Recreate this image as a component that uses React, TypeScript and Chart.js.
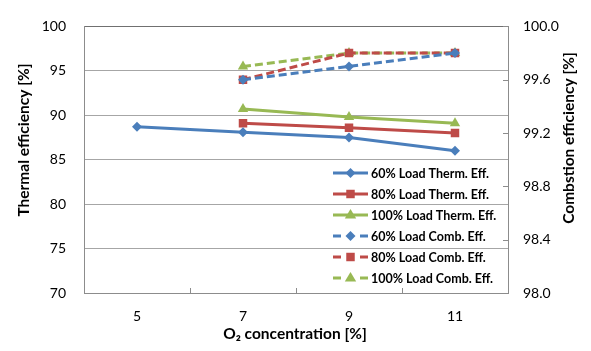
import React, { useEffect, useRef } from "react";
import { Chart, registerables } from "chart.js";

Chart.register(...registerables);

const categories = ["5", "7", "9", "11"];
const therm60 = [88.7, 88.1, 87.5, 86.0];
const therm80 = [null, 89.1, 88.6, 88.0];
const therm100 = [null, 90.7, 89.8, 89.1];
const comb60 = [null, 99.6, 99.7, 99.8];
const comb80 = [null, 99.6, 99.8, 99.8];
const comb100 = [null, 99.7, 99.8, 99.8];
const labels = [
  "60% Load Therm. Eff.",
  "80% Load Therm. Eff.",
  "100% Load Therm. Eff.",
  "60% Load Comb. Eff.",
  "80% Load Comb. Eff.",
  "100% Load Comb. Eff.",
];
const leftTitle = "Thermal efficiency [%]";
const rightTitle = "Combstion efficiency [%]";
const xTitle = "O₂ concentration [%]";

const BLUE = "#4A7EBB";
const RED = "#BE4B48";
const GREEN = "#98B954";
const FONT = "Lato, 'Open Sans', sans-serif";

function drawMarker(ctx: CanvasRenderingContext2D, style: string, cx: number, cy: number, r: number) {
  ctx.beginPath();
  if (style === "rectRot") {
    ctx.moveTo(cx, cy - r);
    ctx.lineTo(cx + r, cy);
    ctx.lineTo(cx, cy + r);
    ctx.lineTo(cx - r, cy);
  } else if (style === "rect") {
    const s = r * Math.SQRT1_2;
    ctx.rect(cx - s, cy - s, 2 * s, 2 * s);
  } else {
    ctx.moveTo(cx, cy - r);
    ctx.lineTo(cx + r * 0.95, cy + r * 0.6);
    ctx.lineTo(cx - r * 0.95, cy + r * 0.6);
  }
  ctx.closePath();
  ctx.fill();
}

const decorPlugin = {
  id: "decor",
  afterDraw(chart: any) {
    const ctx = chart.ctx;
    const ca = chart.chartArea;
    const x = chart.scales.x;
    const y2 = chart.scales.y2;
    ctx.save();
    ctx.strokeStyle = "#8c8c8c";
    ctx.lineWidth = 1;
    for (let i = 1; i < categories.length; i++) {
      const px = Math.round((x.getPixelForValue(i - 1) + x.getPixelForValue(i)) / 2) + 0.5;
      ctx.beginPath();
      ctx.moveTo(px, ca.bottom);
      ctx.lineTo(px, ca.bottom - 5);
      ctx.stroke();
    }
    y2.ticks.forEach((t: any) => {
      const py = Math.round(y2.getPixelForValue(t.value)) + 0.5;
      ctx.beginPath();
      ctx.moveTo(ca.right, py);
      ctx.lineTo(ca.right - 5, py);
      ctx.stroke();
    });
    ctx.fillStyle = "#000";
    ctx.font = `bold 15.5px ${FONT}`;
    ctx.textAlign = "center";
    ctx.textBaseline = "middle";
    ctx.save();
    ctx.translate(24, 140);
    ctx.rotate(-Math.PI / 2);
    ctx.fillText(leftTitle, 0, 0);
    ctx.restore();
    ctx.save();
    ctx.translate(569, 138);
    ctx.rotate(-Math.PI / 2);
    ctx.fillText(rightTitle, 0, 0);
    ctx.restore();
    ctx.fillText(xTitle, 295, 334);
    const ds = chart.data.datasets;
    ds.forEach((d: any, i: number) => {
      const ly = 173 + i * 21;
      const x0 = 333;
      const x1 = 368;
      ctx.save();
      ctx.strokeStyle = d.borderColor;
      ctx.lineWidth = 3;
      ctx.beginPath();
      if (d.borderDash) {
        ctx.moveTo(x0, ly);
        ctx.lineTo(x0 + 8, ly);
        ctx.moveTo(x1 - 8, ly);
        ctx.lineTo(x1, ly);
      } else {
        ctx.moveTo(x0, ly);
        ctx.lineTo(x1, ly);
      }
      ctx.stroke();
      ctx.fillStyle = d.backgroundColor;
      drawMarker(ctx, d.pointStyle, (x0 + x1) / 2, ly, d.pointRadius);
      ctx.restore();
      ctx.fillStyle = "#000";
      ctx.font = `bold 12.5px ${FONT}`;
      ctx.textAlign = "left";
      ctx.textBaseline = "middle";
      ctx.fillText(d.label, 371, ly + 1);
    });
    ctx.restore();
  },
};

function mk(label: string, data: (number | null)[], color: string, style: string, radius: number, axis: string, dashed: boolean) {
  return {
    label,
    data,
    borderColor: color,
    backgroundColor: color,
    pointBackgroundColor: color,
    pointBorderColor: color,
    pointBorderWidth: 0,
    pointStyle: style,
    pointRadius: radius,
    pointHoverRadius: radius,
    borderWidth: 3,
    borderDash: dashed ? [8, 4] : undefined,
    tension: 0,
    yAxisID: axis,
    fill: false,
  };
}

export default function App() {
  const ref = useRef<HTMLCanvasElement>(null);
  useEffect(() => {
    if (!ref.current) return;
    const tickFont = { family: FONT, size: 14 };
    const chart = new Chart(ref.current, {
      type: "line",
      data: {
        labels: categories,
        datasets: [
          mk(labels[0], therm60, BLUE, "rectRot", 5, "y", false),
          mk(labels[1], therm80, RED, "rect", 6, "y", false),
          mk(labels[2], therm100, GREEN, "triangle", 6, "y", false),
          mk(labels[3], comb60, BLUE, "rectRot", 5, "y2", true),
          mk(labels[4], comb80, RED, "rect", 6, "y2", true),
          mk(labels[5], comb100, GREEN, "triangle", 6, "y2", true),
        ] as any,
      },
      options: {
        animation: false,
        responsive: false,
        maintainAspectRatio: false,
        layout: { padding: { top: 14, left: 0, right: 0, bottom: 0 } },
        plugins: { legend: { display: false }, tooltip: { enabled: false } },
        scales: {
          x: {
            type: "category",
            offset: true,
            grid: { display: false },
            border: { display: true, color: "#8c8c8c", width: 1 },
            ticks: { font: tickFont, color: "#000", padding: 7 },
            afterFit: (s: any) => {
              s.height = 58;
            },
          },
          y: {
            position: "left",
            min: 70,
            max: 100,
            ticks: { stepSize: 5, font: tickFont, color: "#000", padding: 18 },
            grid: { color: (c: any) => (c.tick && c.tick.value === 100 ? "#707070" : "#a6a6a6"), drawTicks: false },
            border: { display: true, color: "#8c8c8c", width: 1 },
            afterFit: (s: any) => {
              s.width = 84;
            },
          },
          y2: {
            position: "right",
            min: 98,
            max: 100,
            ticks: {
              stepSize: 0.4,
              font: tickFont,
              color: "#000",
              padding: 15,
              callback: (v: any) => Number(v).toFixed(1),
            },
            grid: { display: false, drawTicks: false },
            border: { display: true, color: "#8c8c8c", width: 1 },
            afterFit: (s: any) => {
              s.width = 83;
            },
          },
        },
      } as any,
      plugins: [decorPlugin],
    });
    return () => chart.destroy();
  }, []);
  return (
    <div style={{ position: "absolute", left: 0, top: 0, width: 591, height: 351, background: "#fff" }}>
      <canvas ref={ref} width={591} height={351} style={{ width: 591, height: 351 }} />
    </div>
  );
}
